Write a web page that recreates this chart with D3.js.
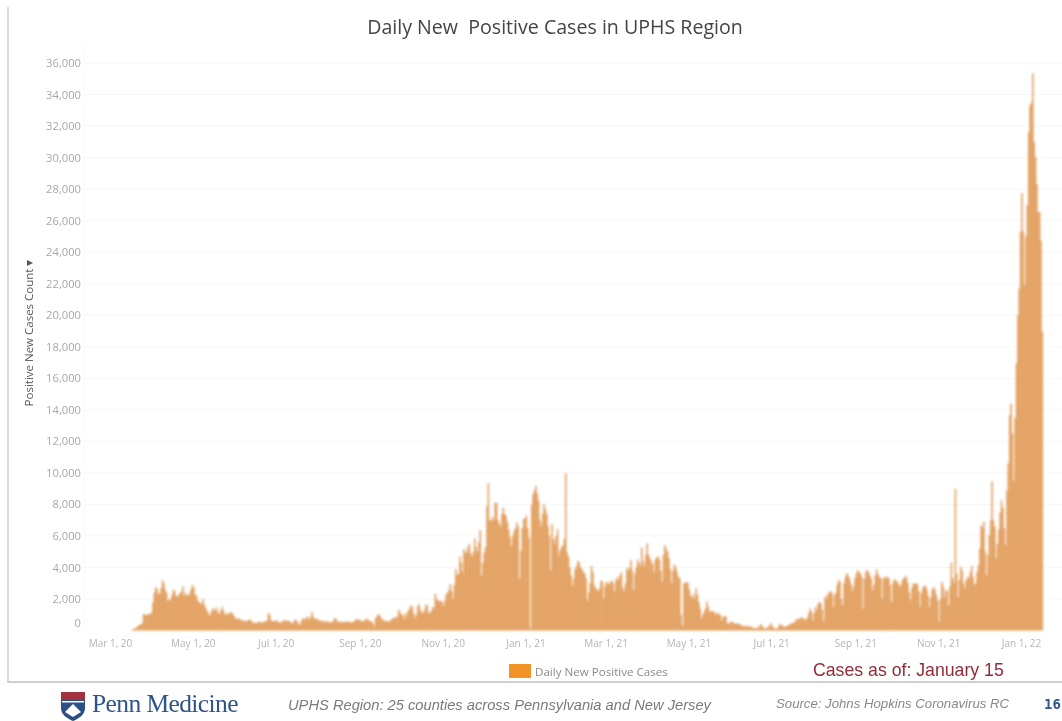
<!DOCTYPE html>
<html><head><meta charset="utf-8">
<script src="https://cdn.jsdelivr.net/npm/d3@7/dist/d3.min.js"></script>
<style>html,body{margin:0;padding:0;background:#fff;overflow:hidden}svg{display:block}</style>
</head><body><svg id="c" width="1062" height="721"></svg>
<script>
const title = "Daily New  Positive Cases in UPHS Region";
const yLabel = "Positive New Cases Count";
const legendLabel = "Daily New Positive Cases";
const asOf = "Cases as of: January 15";
const footerRegion = "UPHS Region: 25 counties across Pennsylvania and New Jersey";
const footerSource = "Source: Johns Hopkins Coronavirus RC";
const pageNumber = "16";
const startDate = new Date(2020, 2, 1);
const yTicks = [0,2000,4000,6000,8000,10000,12000,14000,16000,18000,20000,22000,24000,26000,28000,30000,32000,34000,36000];
const xTicks = [[2020,2],[2020,4],[2020,6],[2020,8],[2020,10],[2021,0],[2021,2],[2021,4],[2021,6],[2021,8],[2021,10],[2022,0]];

// Daily values, Mar 1 2020 onward
const cases2020 = [
0,0,0,0,0,0,0,0,0,0,0,
0,20,50,100,150,200,300,350,400,450,
1050,1000,1000,1000,1050,1050,1150,1800,2400,2750,
2650,2300,2350,2700,3200,3000,2600,2400,1900,1950,
2000,2250,2600,2500,2200,2150,2300,2350,2500,2800,
2200,2400,2250,2200,2350,2600,2900,2750,2300,2200,
1900,1800,1700,1750,2000,1600,1400,1250,1050,950,
1200,1400,1350,1250,1450,1150,1050,1300,1500,1250,
1050,1000,1100,1050,1150,1150,1000,900,750,700,
800,700,650,600,650,600,550,650,700,650,
550,480,500,450,520,540,550,500,520,560,
600,620,1100,1000,650,600,560,620,640,580,
480,500,560,650,600,650,600,620,
550,500,430,600,700,600,450,340,
550,750,760,700,820,870,650,850,1180,900,
750,720,760,650,600,640,560,600,540,
600,560,500,540,520,640,800,720,540,560,
560,540,520,550,540,580,560,520,540,530,560,680,700,
720,680,600,620,580,640,760,700,640,600,560,480,250,
800,900,1030,950,800,700,600,640,
600,550,580,650,720,800,820,800,900,
1330,1150,1000,980,700,1100,900,1250,1400,1600,
1500,1100,800,1000,1550,1650,1300,1150,1100,1300,
1650,1600,1150,1100,1250,1500,1400,2340,2000,1900,1850,
1900,1800,1580,1900,2300,2400,2600,2950,2500,2000,
2900,3900,3500,3600,4700,4300,3700,5170,4900,5000,
5300,5500,4900,4700,5000,5850,5300,5000,5600,6370,
3480,4300,4950,5300,7900,9350,
7000,6960,7200,7000,8120,8100,7000,6800,6600,7400,7800,
7400,7280,6900,6400,5900,5380,6000,6300,6500,6860,6600,3300,5060,6500,7070,7100,7280,6500,5900];
const cases2021 = [
150,
8000,8650,8900,9180,8700,8230,7000,6640,7400,8020,7700,7385,6600,6000,
3800,6750,5800,5500,6000,6430,4750,5100,5300,5400,5800,9980,4960,4700,4000,3500,2850,3300,3900,4100,4430,
4300,4000,3900,3700,3630,3300,1900,2400,3000,4100,3700,2900,2680,2600,2500,2700,3160,3100,2050,2800,3100,3000,2900,3100,
3160,3000,2470,3200,3370,3200,3500,3730,2700,2500,3000,3950,3800,4000,4470,3800,2570,3600,4000,4500,4300,4100,5270,4400,4100,4800,5530,4800,4570,4400,4200,3700,4500,4600,4720,4500,3800,3100,4800,5420,5200,5000,4600,3900,3000,3800,4200,4000,3700,3400,3300,1000,
300,3000,3000,3100,3000,2600,2200,2050,2300,2000,2680,2300,1800,1400,780,1000,1200,1400,1840,1500,
1200,1200,1250,1200,1000,1150,1000,1100,950,600,880,900,900,460,450,500,570,540,420,460,420,450,400,350,300,280,250,300,270,260,280,200,180,150,140,200,150,320,400,250,150,130,160,200,300,460,300,180,120,100,150,300,400,350,280,220,240,300,320,380,450,
460,500,550,720,750,700,800,840,780,650,700,800,1100,1400,1200,650,1100,1500,1300,1700,1830,1700,1300,580,2150,2000,2300,2400,2520,2400,1500,2250,2400,2900,3200,3100,2000,1600,3000,3400,3630,3500,3300,3000,2500,2800,3300,3600,3840,
3700,3630,3400,1400,3300,3700,3840,3700,3500,3300,2570,2900,3500,3880,3600,3400,3300,2030,3300,3400,3300,3450,3300,2900,1820,3000,3240,3200,3100,3000,2770,2900,3200,3300,3450,3350,3000,2400,1930,2700,2990,2950,3000,2950,2500,1500,2400,2700,2840,2850,2600,2200,1500,2100,2600,2770,2600,2250,1900,560,2000,3090,2800,2100,2560,2500,1600,2800,4320,3300,3000,9000,3600,2130,3200,4050,3800,3000,2700,3200,3400,3300,3700,4100,3400,2890,3000,3700,4150,5200,6680,6500,6900,5000,3520,4800,6050,7000,9470,7000,6580,4580,5500,6400,7500,8260,7800,6500,5420,8900,10600,13660,14400,12500,9500,13500,16950,20000,21700,25300,27750,25300,21900];
const cases2022 = [25000,27000,31600,33300,33500,35350,31000,30050,28300,26550,26550,24750,18950];
const dailyCases = cases2020.concat(cases2021, cases2022);
const series = dailyCases.map((v, i) => ({date: d3.timeDay.offset(startDate, i), value: v}));

const barColor = "#e3a162", swatch = "#f39226";
const svg = d3.select("#c");
const defs = svg.append("defs");
defs.append("filter").attr("id","soft").attr("x","-5%").attr("y","-5%").attr("width","110%").attr("height","110%")
  .append("feGaussianBlur").attr("stdDeviation",0.85);
defs.append("filter").attr("id","softT").attr("x","-5%").attr("y","-20%").attr("width","110%").attr("height","140%")
  .append("feGaussianBlur").attr("stdDeviation",0.6);

const x = d3.scaleTime().domain([startDate, new Date(2022,0,1)]).range([115, 115 + 671*1.3577]);
const y = d3.scaleLinear().domain([0,36000]).range([630.5,63]);
const step = x(d3.timeDay.offset(startDate,1)) - x(startDate);

// frame
svg.append("rect").attr("x",7).attr("y",7).attr("width",2).attr("height",675).attr("fill","#dcdcdc");
svg.append("rect").attr("x",7).attr("y",681).attr("width",1055).attr("height",2).attr("fill","#cfcfcf");

// grid
svg.append("g").selectAll("line").data(yTicks.slice(1)).join("line")
  .attr("x1",84).attr("x2",1062).attr("y1",d=>y(d)).attr("y2",d=>y(d))
  .attr("stroke","#f7f7f7").attr("stroke-width",1);
svg.append("line").attr("x1",84).attr("x2",84).attr("y1",46).attr("y2",630).attr("stroke","#fafafa");

// bars
svg.append("g").attr("filter","url(#soft)").selectAll("rect").data(series).join("rect")
  .attr("x",d=>x(d.date)-step/2-0.15).attr("width",step+0.3)
  .attr("y",d=>y(d.value)).attr("height",d=>y(0)-y(d.value))
  .attr("fill",barColor);

// y axis
const gy = svg.append("g").attr("transform","translate(81,0)").attr("filter","url(#softT)")
  .call(d3.axisLeft(y).tickValues(yTicks).tickSize(0).tickPadding(0).tickFormat(d3.format(",")));
gy.select(".domain").remove();
gy.selectAll("text").attr("fill","#a8a8a8").attr("font-family","'Open Sans'").attr("font-size",11.2);
gy.selectAll(".tick").filter(d=>d===0).select("text").attr("dy","-0.35em");

// x axis
const gx = svg.append("g").attr("transform","translate(-5,640)").attr("filter","url(#softT)")
  .call(d3.axisBottom(x).tickValues(xTicks.map(t=>new Date(t[0],t[1],1))).tickSize(0).tickPadding(0)
  .tickFormat(d3.timeFormat("%b %-d, %y")));
gx.select(".domain").remove();
gx.selectAll("text").attr("fill","#b4b4b4").attr("font-family","'Open Sans'").attr("font-size",10);

// titles
svg.append("text").attr("x",555).attr("y",34).attr("text-anchor","middle").attr("xml:space","preserve")
  .style("white-space","pre").attr("filter","url(#softT)")
  .attr("font-family","'Open Sans'").attr("font-weight",500).attr("font-size",19.6).attr("fill","#444").text(title);
svg.append("text").attr("transform","translate(33,333) rotate(-90)").attr("text-anchor","middle").attr("filter","url(#softT)")
  .attr("font-family","'Open Sans'").attr("font-size",11.5).attr("fill","#555").text(yLabel + " \u25BE");

// legend
svg.append("rect").attr("x",509).attr("y",664).attr("width",22).attr("height",14).attr("fill",swatch).attr("filter","url(#softT)");
svg.append("text").attr("x",535).attr("y",675.5).attr("filter","url(#softT)")
  .attr("font-family","'Open Sans'").attr("font-size",11.6).attr("fill","#8a8a8a").text(legendLabel);
svg.append("text").attr("x",813).attr("y",675.5).attr("filter","url(#softT)")
  .attr("font-family","'Liberation Sans'").attr("font-size",17.7).attr("fill","#8f2d38").text(asOf);

// footer
const logo = svg.append("g").attr("transform","translate(61,692)").attr("filter","url(#softT)");
logo.append("path").attr("d","M0 0H24V16C24 23 17 27 12 29C7 27 0 23 0 16Z").attr("fill","#2d4f86");
logo.append("rect").attr("x",0).attr("y",0).attr("width",24).attr("height",8).attr("fill","#a3303f");
logo.append("rect").attr("x",1).attr("y",9).attr("width",22).attr("height",1.5).attr("fill","#fff");
logo.append("path").attr("d","M12 12L20 20L12 25L4 20Z").attr("fill","#fff");
svg.append("text").attr("x",92).attr("y",712).attr("filter","url(#softT)")
  .attr("font-family","'Liberation Serif'").attr("font-size",25.5).attr("letter-spacing",-0.6).attr("fill","#2f5388").text("Penn Medicine");
svg.append("text").attr("x",288).attr("y",709.5).attr("filter","url(#softT)")
  .attr("font-family","'Liberation Sans'").attr("font-style","italic").attr("font-size",14.7).attr("fill","#7a7a7a").text(footerRegion);
svg.append("text").attr("x",776).attr("y",708).attr("filter","url(#softT)")
  .attr("font-family","'Liberation Sans'").attr("font-style","italic").attr("font-size",13.2).attr("fill","#888").text(footerSource);
svg.append("text").attr("x",1044).attr("y",709).attr("filter","url(#softT)")
  .attr("font-family","'DejaVu Sans Mono'").attr("font-weight","bold").attr("font-size",14).attr("fill","#2f5590").text(pageNumber);
</script></body></html>
